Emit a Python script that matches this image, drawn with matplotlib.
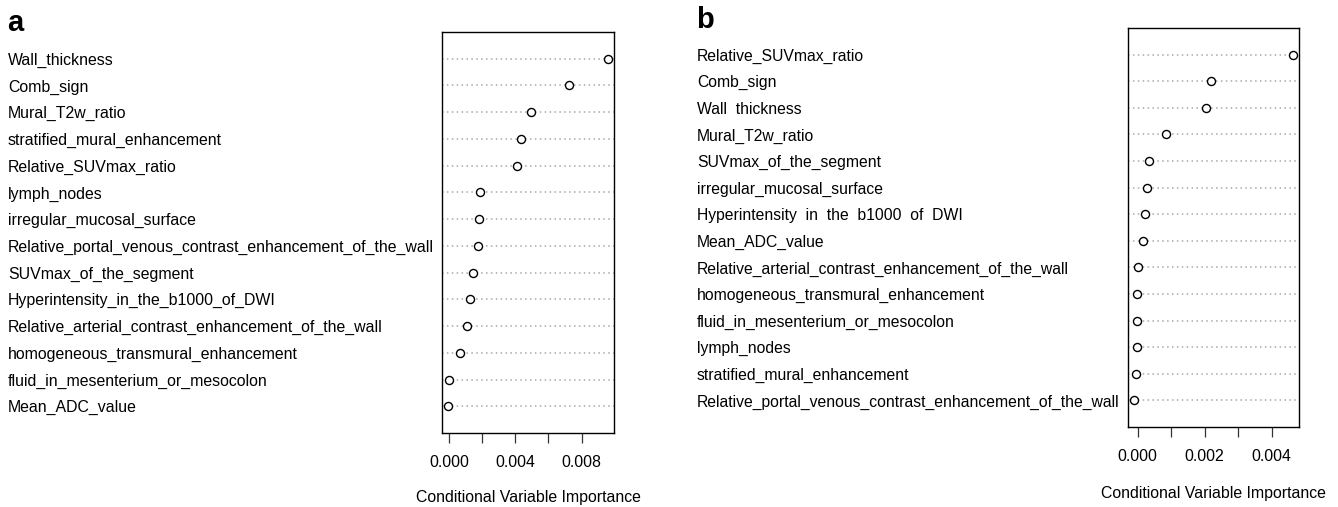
import numpy as np
import matplotlib.pyplot as plt
import matplotlib.transforms as mtransforms

plt.rcParams['font.family'] = ['Liberation Sans', 'DejaVu Sans']

# panel a (top to bottom)
labels_a = ["Wall_thickness", "Comb_sign", "Mural_T2w_ratio",
            "stratified_mural_enhancement", "Relative_SUVmax_ratio",
            "lymph_nodes", "irregular_mucosal_surface",
            "Relative_portal_venous_contrast_enhancement_of_the_wall",
            "SUVmax_of_the_segment", "Hyperintensity_in_the_b1000_of_DWI",
            "Relative_arterial_contrast_enhancement_of_the_wall",
            "homogeneous_transmural_enhancement",
            "fluid_in_mesenterium_or_mesocolon", "Mean_ADC_value"]
values_a = [0.00957, 0.00722, 0.00495, 0.00432, 0.00410, 0.00189, 0.00183,
            0.00177, 0.00145, 0.00129, 0.00110, 0.00064, 0.00000, -0.00004]

# panel b (top to bottom)
labels_b = ["Relative_SUVmax_ratio", "Comb_sign", "Wall  thickness",
            "Mural_T2w_ratio", "SUVmax_of_the_segment",
            "irregular_mucosal_surface", "Hyperintensity  in  the  b1000  of  DWI",
            "Mean_ADC_value",
            "Relative_arterial_contrast_enhancement_of_the_wall",
            "homogeneous_transmural_enhancement",
            "fluid_in_mesenterium_or_mesocolon", "lymph_nodes",
            "stratified_mural_enhancement",
            "Relative_portal_venous_contrast_enhancement_of_the_wall"]
values_b = [0.00463, 0.00220, 0.00205, 0.000845, 0.00033, 0.00028, 0.00022,
            0.00017, 0.00000, -0.00002, -0.00003, -0.00003, -0.00004, -0.00010]

ticks_a = [0.000, 0.002, 0.004, 0.006, 0.008]
ticks_b = [0.000, 0.001, 0.002, 0.003, 0.004]

W, H = 1338, 507
FS = 11.4
fig = plt.figure(figsize=(W / 100, H / 100), dpi=100)


def panel(rect, labels, values, ticks, label_x, fs, letter, letter_xy, xlpad):
    ax = fig.add_axes(rect)
    n = len(values)
    ypos = np.arange(n, 0, -1)
    for y in ypos:
        ax.axhline(y, color='#a8a8a8', lw=1.1, ls=(0, (1, 2.2)), zorder=1)
    ax.plot(values, ypos, 'o', ms=5.8, mfc='white', mec='black', mew=1.0,
            ls='none', zorder=3)
    ax.margins(x=0.04)
    ax.set_ylim(0, n + 1)
    ax.set_yticks([])
    ax.set_xticks(ticks)
    ax.set_xticklabels([f"{t:.3f}" if i % 2 == 0 else "" for i, t in enumerate(ticks)],
                       fontsize=FS)
    ax.tick_params(axis='x', direction='out', length=7, width=0.9, pad=9,
                   color='#333333')
    for s in ax.spines.values():
        s.set_linewidth(1.0)
    ax.set_xlabel("Conditional Variable Importance", fontsize=FS, labelpad=xlpad)
    trans = mtransforms.blended_transform_factory(fig.transFigure, ax.transData)
    for lab, y in zip(labels, ypos):
        ax.text(label_x, y, lab, transform=trans, ha='left', va='center_baseline',
                fontsize=fs, clip_on=False)
    fig.text(letter_xy[0], letter_xy[1], letter, fontsize=21, fontweight='bold',
             ha='left', va='top')
    return ax


panel([442 / W, 1 - 433 / H, 172 / W, 401 / H], labels_a, values_a, ticks_a,
      8 / W, FS, "a", (7 / W, 1 - 9 / H), 14)
panel([1128 / W, 1 - 427 / H, 171 / W, 399 / H], labels_b, values_b, ticks_b,
      697 / W, 11.3, "b", (696 / W, 1 - 6 / H), 16)

fig.savefig("out.png", dpi=100)
